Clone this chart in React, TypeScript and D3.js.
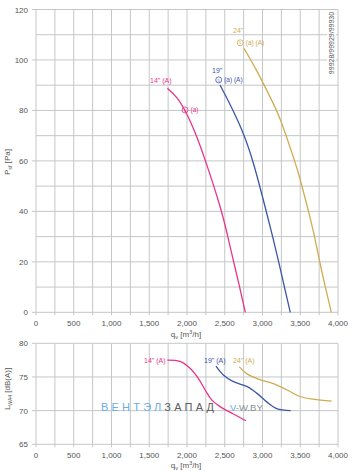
import React from "react";
import * as d3 from "d3";

const xTicks = [0, 500, 1000, 1500, 2000, 2500, 3000, 3500, 4000];
const pTicks = [0, 20, 40, 60, 80, 100, 120];
const lTicks = [65, 70, 75, 80];

const p14q = [1740, 1868, 1974, 2097, 2245, 2463, 2540, 2618, 2698, 2772];
const p14p = [88.8, 85.4, 80.2, 72.3, 60.3, 40, 30, 20, 10, 0];
const p19q = [2437, 2543, 2735, 2874, 3050, 3135, 3215, 3290, 3368];
const p19p = [90.1, 84.1, 72.2, 60.4, 40, 30, 20, 10, 0];
const p24q = [2755, 2923, 3099, 3232, 3422, 3466, 3611, 3691, 3757, 3832, 3911];
const p24p = [104.6, 96, 85.4, 77.5, 60.3, 56.4, 40, 30, 20, 10, 0];

const l14q = [1740, 1907, 2040, 2150, 2239, 2327, 2437, 2614, 2782];
const l14l = [77.5, 77.3, 76.3, 74.8, 73.1, 71.6, 70.6, 69.5, 68.5];
const l19q = [2384, 2481, 2614, 2790, 2923, 3056, 3188, 3374];
const l19l = [76.6, 75.3, 74.3, 73.6, 72.6, 71.3, 70.3, 70.0];
const l24q = [2693, 2790, 2967, 3143, 3320, 3497, 3673, 3916];
const l24l = [76.5, 75.5, 74.6, 74.0, 73.1, 72.1, 71.7, 71.4];

const C14 = "#e8338c";
const C19 = "#3b56a8";
const C24 = "#cfac50";
const GRID = "#c4c6c8";
const TXT = "#555";
const FONT = "'Liberation Sans', Arial, sans-serif";

const zip = (a: number[], b: number[]) => a.map((v, i) => [v, b[i]] as [number, number]);

export default function App() {
  const x = d3.scaleLinear().domain([0, 4000]).range([36, 338]);
  const yP = d3.scaleLinear().domain([0, 120]).range([312.3, 9.5]);
  const yL = d3.scaleLinear().domain([65, 80]).range([444.3, 343.3]);

  const lineP = d3.line<[number, number]>().x((d) => x(d[0])).y((d) => yP(d[1])).curve(d3.curveBasis);
  const lineL = d3.line<[number, number]>().x((d) => x(d[0])).y((d) => yL(d[1])).curve(d3.curveCatmullRom.alpha(0.5));

  const vGrid = d3.range(0, 4001, 250);
  const hGridP = d3.range(0, 121, 10);
  const hGridL = d3.range(65, 81, 5);

  const marker = (cx: number, cy: number, color: string, label: string) => (
    <g>
      <circle cx={cx} cy={cy} r={3} fill="none" stroke={color} strokeWidth={0.8} />
      <text x={cx} y={cy + 1.6} fontSize={4} textAnchor="middle" fill={color} fontFamily={FONT}>5</text>
      <text x={cx + 5.5} y={cy + 2.3} fontSize={6.5} fill={color} fontFamily={FONT}>{label}</text>
    </g>
  );

  const qTitle = (y: number) => (
    <text x={186} y={y} fontSize={8} fill={TXT} textAnchor="middle">
      q<tspan fontSize={5.5} dy={2}>v</tspan><tspan dy={-2}> [m</tspan><tspan fontSize={5.5} dy={-3}>3</tspan><tspan dy={3}>/h]</tspan>
    </text>
  );

  return (
    <svg width={354} height={471} style={{ position: "absolute", left: 0, top: 0, background: "#fff" }} fontFamily={FONT}>
      {/* top chart grid */}
      {vGrid.map((v) => (
        <line key={"tv" + v} x1={x(v)} x2={x(v)} y1={yP(120)} y2={yP(0) + 3} stroke={GRID} strokeWidth={1} />
      ))}
      {hGridP.map((v) => (
        <line key={"th" + v} x1={x(0) - (v % 20 === 0 ? 4 : 0)} x2={x(4000)} y1={yP(v)} y2={yP(v)} stroke={GRID} strokeWidth={1} />
      ))}
      {/* bottom chart grid */}
      {vGrid.map((v) => (
        <line key={"bv" + v} x1={x(v)} x2={x(v)} y1={yL(80)} y2={yL(65) + 3} stroke={GRID} strokeWidth={1} />
      ))}
      {hGridL.map((v) => (
        <line key={"bh" + v} x1={x(0) - 4} x2={x(4000)} y1={yL(v)} y2={yL(v)} stroke={GRID} strokeWidth={1} />
      ))}

      {/* ticks labels top */}
      {pTicks.map((v) => (
        <text key={"pt" + v} x={28} y={yP(v) + 3} fontSize={8} fill={TXT} textAnchor="end">{v}</text>
      ))}
      {xTicks.map((v) => (
        <text key={"xt" + v} x={x(v)} y={326} fontSize={8} fill={TXT} textAnchor="middle">{d3.format(",")(v)}</text>
      ))}
      {qTitle(337)}
      <text transform="translate(10,162) rotate(-90)" fontSize={8} fill={TXT} textAnchor="middle">
        P<tspan fontSize={5.5} dy={2}>sf</tspan><tspan dy={-2}> [Pa]</tspan>
      </text>

      {/* ticks labels bottom */}
      {lTicks.map((v) => (
        <text key={"lt" + v} x={28} y={yL(v) + 3} fontSize={8} fill={TXT} textAnchor="end">{v}</text>
      ))}
      {xTicks.map((v) => (
        <text key={"xb" + v} x={x(v)} y={458} fontSize={8} fill={TXT} textAnchor="middle">{d3.format(",")(v)}</text>
      ))}
      {qTitle(468)}
      <text transform="translate(10,389) rotate(-90)" fontSize={8} fill={TXT} textAnchor="middle">
        L<tspan fontSize={5} dy={2}>WA4</tspan><tspan dy={-2}> [dB(A)]</tspan>
      </text>

      {/* id label */}
      <rect x={327} y={10} width={9} height={68} fill="#fff" />
      <text transform="translate(334,43) rotate(-90)" fontSize={7} fill={TXT} textAnchor="middle">99928/99929/99930</text>

      {/* watermark */}
      <text x={101} y={411} fontSize={11} letterSpacing={3.2} fill="#6aaee2">
        ВЕНТЭЛ<tspan fill="#5e5e5e">ЗАПАД</tspan>
      </text>
      <text x={230} y={411} fontSize={9.5} fill="#8a8f95">
        <tspan fill="#6aaee2">V-</tspan>W.BY
      </text>

      {/* top curves */}
      <path d={lineP(zip(p14q, p14p)) || ""} fill="none" stroke={C14} strokeWidth={1.3} />
      <path d={lineP(zip(p19q, p19p)) || ""} fill="none" stroke={C19} strokeWidth={1.3} />
      <path d={lineP(zip(p24q, p24p)) || ""} fill="none" stroke={C24} strokeWidth={1.3} />

      <text x={150} y={82.5} fontSize={7} fill={C14}>14" (A)</text>
      {marker(x(1974), yP(80.2), C14, "(a)")}
      <text x={212} y={73} fontSize={7} fill={C19}>19"</text>
      {marker(x(2420), yP(92.1), C19, "(a) (A)")}
      <text x={233} y={32.5} fontSize={7} fill={C24}>24"</text>
      {marker(x(2705), yP(106.8), C24, "(a) (A)")}

      {/* bottom curves */}
      <path d={lineL(zip(l14q, l14l)) || ""} fill="none" stroke={C14} strokeWidth={1.3} />
      <path d={lineL(zip(l19q, l19l)) || ""} fill="none" stroke={C19} strokeWidth={1.3} />
      <path d={lineL(zip(l24q, l24l)) || ""} fill="none" stroke={C24} strokeWidth={1.3} />
      <text x={144} y={363} fontSize={7} fill={C14}>14" (A)</text>
      <text x={204} y={362.5} fontSize={7} fill={C19}>19" (A)</text>
      <text x={233} y={362.5} fontSize={7} fill={C24}>24" (A)</text>
    </svg>
  );
}
